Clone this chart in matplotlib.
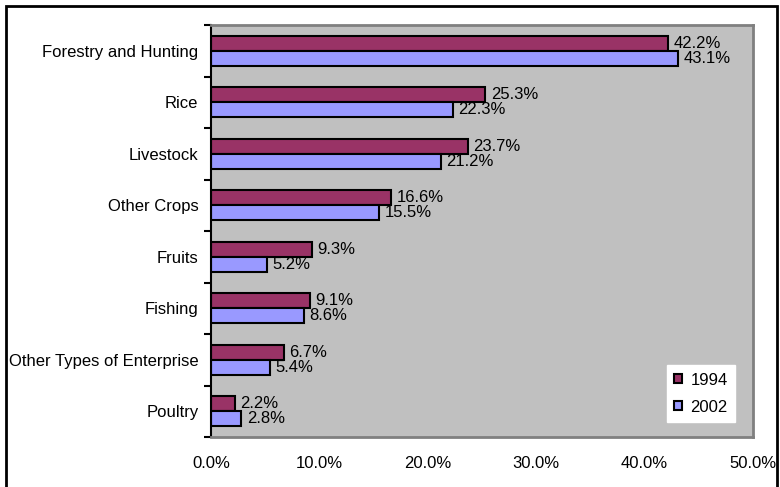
import matplotlib.pyplot as plt
import numpy as np
from matplotlib.patches import Rectangle
from matplotlib.ticker import FixedLocator, PercentFormatter

categories = ['Forestry and Hunting', 'Rice', 'Livestock', 'Other Crops',
              'Fruits', 'Fishing', 'Other Types of Enterprise', 'Poultry']
share_1994 = [42.2, 25.3, 23.7, 16.6, 9.3, 9.1, 6.7, 2.2]
share_2002 = [43.1, 22.3, 21.2, 15.5, 5.2, 8.6, 5.4, 2.8]
series_labels = ['1994', '2002']

plt.rcParams['font.family'] = ['Liberation Sans', 'DejaVu Sans']
plt.rcParams['font.size'] = 12

fig = plt.figure(figsize=(7.8, 4.87), dpi=100)
ax = fig.add_axes([211 / 780, 1 - 437 / 487, 542 / 780, 412 / 487])
ax.set_facecolor('#c0c0c0')

# top category sits at the top of the axis
y = np.arange(len(categories))[::-1]
h = 0.29
bars_a = ax.barh(y + h / 2, share_1994, height=h, color='#993366',
                 edgecolor='black', linewidth=1.5, label=series_labels[0])
bars_b = ax.barh(y - h / 2, share_2002, height=h, color='#9999ff',
                 edgecolor='black', linewidth=1.5, label=series_labels[1])

for bars, vals in ((bars_a, share_1994), (bars_b, share_2002)):
    for bar, v in zip(bars, vals):
        ax.text(v + 0.5, bar.get_y() + bar.get_height() / 2, f'{v:.1f}%',
                va='center', ha='left')

ax.set_xlim(0, 50)
ax.set_ylim(-0.5, len(categories) - 0.5)
ax.set_xticks(np.arange(0, 51, 10))
ax.xaxis.set_major_formatter(PercentFormatter(decimals=1))
ax.tick_params(axis='x', length=0, pad=14)

ax.set_yticks(y)
ax.set_yticklabels(categories)
ax.yaxis.set_minor_locator(FixedLocator(np.arange(-0.5, len(categories), 1)))
ax.tick_params(axis='y', which='major', length=0, pad=9)
ax.tick_params(axis='y', which='minor', length=5, width=1.5, direction='out')

for side in ('top', 'right', 'bottom'):
    ax.spines[side].set_color('#808080')
    ax.spines[side].set_linewidth(2)
ax.spines['left'].set_color('black')
ax.spines['left'].set_linewidth(1.5)

leg = ax.legend(loc='lower right', bbox_to_anchor=(735 / 780, 1 - 422 / 487),
                bbox_transform=fig.transFigure, borderaxespad=0,
                frameon=True, fancybox=False, edgecolor='white',
                facecolor='white', framealpha=1,
                handlelength=0.45, handleheight=0.45, handletextpad=0.5,
                labelspacing=0.7, borderpad=0.45)

# outer chart border
fig.patches.append(Rectangle((6 / 780, -0.01), 771 / 780, 1 - 6 / 487 + 0.01,
                             transform=fig.transFigure, fill=False,
                             edgecolor='black', linewidth=2))

fig.savefig('out.png', dpi=100)
